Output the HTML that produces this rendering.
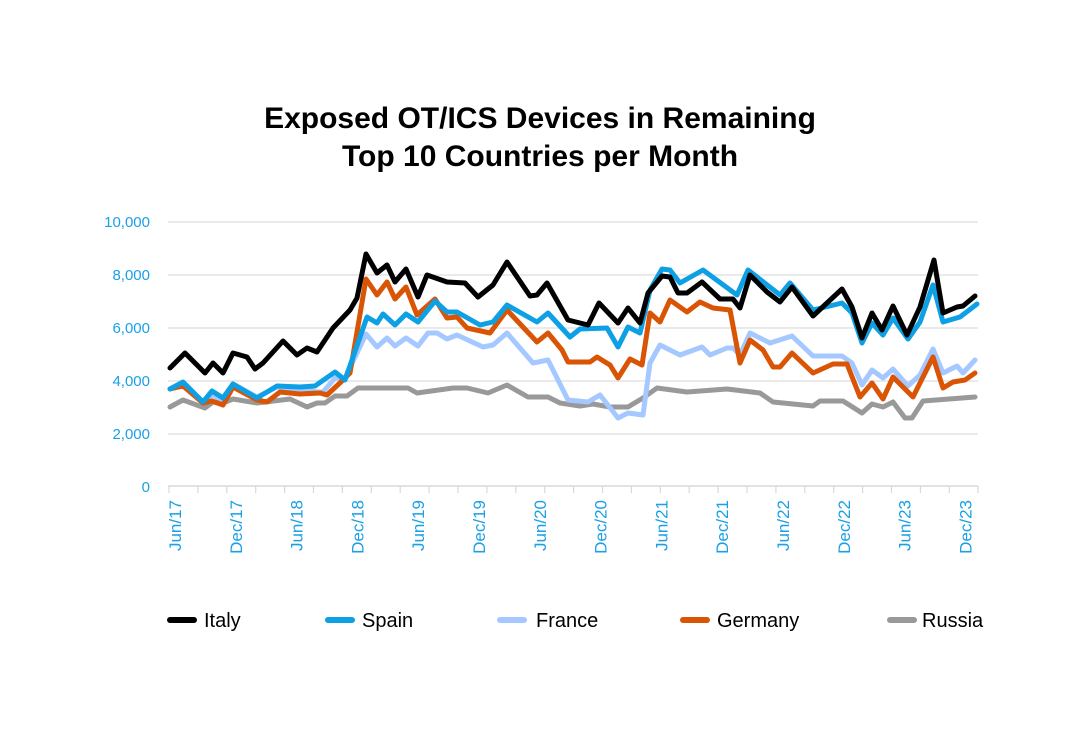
<!DOCTYPE html>
<html><head><meta charset="utf-8"><style>
body{margin:0;background:#fff;width:1080px;height:733px;overflow:hidden}
svg{display:block;font-family:"Liberation Sans",sans-serif}
</style></head><body>
<svg width="1080" height="733" viewBox="0 0 1080 733">
<text x="540" y="128" text-anchor="middle" font-size="30" font-weight="bold" fill="#000">Exposed OT/ICS Devices in Remaining</text>
<text x="540" y="166" text-anchor="middle" font-size="30" font-weight="bold" fill="#000">Top 10 Countries per Month</text>
<g stroke="#e4e4e4" stroke-width="1.5">
<line x1="168" x2="978" y1="222" y2="222"/><line x1="168" x2="978" y1="275" y2="275"/><line x1="168" x2="978" y1="328" y2="328"/><line x1="168" x2="978" y1="381" y2="381"/><line x1="168" x2="978" y1="434" y2="434"/>
<line x1="168" x2="978" y1="486" y2="486" stroke="#d8d8d8"/>
</g>
<g stroke="#d8d8d8" stroke-width="1.2">
<line x1="169" x2="169" y1="486" y2="493"/><line x1="197.9" x2="197.9" y1="486" y2="493"/><line x1="226.8" x2="226.8" y1="486" y2="493"/><line x1="255.7" x2="255.7" y1="486" y2="493"/><line x1="284.6" x2="284.6" y1="486" y2="493"/><line x1="313.5" x2="313.5" y1="486" y2="493"/><line x1="342.4" x2="342.4" y1="486" y2="493"/><line x1="371.3" x2="371.3" y1="486" y2="493"/><line x1="400.2" x2="400.2" y1="486" y2="493"/><line x1="429.1" x2="429.1" y1="486" y2="493"/><line x1="458" x2="458" y1="486" y2="493"/><line x1="486.9" x2="486.9" y1="486" y2="493"/><line x1="515.8" x2="515.8" y1="486" y2="493"/><line x1="544.7" x2="544.7" y1="486" y2="493"/><line x1="573.6" x2="573.6" y1="486" y2="493"/><line x1="602.5" x2="602.5" y1="486" y2="493"/><line x1="631.4" x2="631.4" y1="486" y2="493"/><line x1="660.3" x2="660.3" y1="486" y2="493"/><line x1="689.2" x2="689.2" y1="486" y2="493"/><line x1="718.1" x2="718.1" y1="486" y2="493"/><line x1="747" x2="747" y1="486" y2="493"/><line x1="775.9" x2="775.9" y1="486" y2="493"/><line x1="804.8" x2="804.8" y1="486" y2="493"/><line x1="833.7" x2="833.7" y1="486" y2="493"/><line x1="862.6" x2="862.6" y1="486" y2="493"/><line x1="891.5" x2="891.5" y1="486" y2="493"/><line x1="920.4" x2="920.4" y1="486" y2="493"/><line x1="949.3" x2="949.3" y1="486" y2="493"/><line x1="978" x2="978" y1="486" y2="493"/>
</g>
<g fill="#1aa0e6" font-size="15" text-anchor="end">
<text x="150" y="227">10,000</text><text x="150" y="280">8,000</text><text x="150" y="333">6,000</text><text x="150" y="386">4,000</text><text x="150" y="439">2,000</text><text x="150" y="492">0</text>
</g>
<g fill="#1aa0e6" font-size="17" text-anchor="end">
<text transform="translate(181,500) rotate(-90)">Jun/17</text>
<text transform="translate(241.8,500) rotate(-90)">Dec/17</text>
<text transform="translate(302.6,500) rotate(-90)">Jun/18</text>
<text transform="translate(363.4,500) rotate(-90)">Dec/18</text>
<text transform="translate(424.2,500) rotate(-90)">Jun/19</text>
<text transform="translate(485,500) rotate(-90)">Dec/19</text>
<text transform="translate(545.8,500) rotate(-90)">Jun/20</text>
<text transform="translate(606.6,500) rotate(-90)">Dec/20</text>
<text transform="translate(667.4,500) rotate(-90)">Jun/21</text>
<text transform="translate(728.2,500) rotate(-90)">Dec/21</text>
<text transform="translate(789,500) rotate(-90)">Jun/22</text>
<text transform="translate(849.8,500) rotate(-90)">Dec/22</text>
<text transform="translate(910.6,500) rotate(-90)">Jun/23</text>
<text transform="translate(971.4,500) rotate(-90)">Dec/23</text>
</g>
<g fill="none" stroke-width="5" stroke-linejoin="round" stroke-linecap="round">
<polyline stroke="#999" points="170,407 183,400 205,408 213,402 223,403 233,399 257,403 290,399 307,407 317,403 325,403 335,396 347,396 358,388 408,388 417,393 453,388 467,388 488,393 507,385 528,397 548,397 560,403 580,406 593,404 610,407 628,407 643,398 657,388 687,392 727,389 760,393 773,402 813,406 820,401 843,401 862,413 872,404 883,407 893,402 905,418 912,418 923,401 975,397"/>
<polyline stroke="#a4c8ff" points="170,389 183,383 203,402 212,395 223,400 233,384 257,397 277,387 300,389 317,392 323,392 335,378 345,378 366,334 377,347 387,338 395,346 406,338 418,346 428,333 437,333 447,339 457,335 483,347 493,345 507,333 533,363 548,360 568,400 588,402 600,395 618,418 628,413 643,415 650,363 660,345 680,355 702,347 710,355 727,348 733,348 740,355 750,333 770,343 792,336 813,356 842,356 852,363 862,385 872,370 883,378 893,369 908,386 920,375 933,349 943,373 957,366 963,373 975,360"/>
<polyline stroke="#d95404" points="170,389 183,386 203,403 212,401 223,405 233,387 257,400 267,402 280,392 300,394 320,393 327,395 343,380 350,373 366,279 377,295 387,282 395,299 406,287 417,315 435,299 447,318 457,317 467,328 490,333 507,310 537,342 548,333 562,350 568,362 590,362 597,357 610,365 618,378 630,359 642,365 650,313 660,322 670,300 687,312 700,302 713,308 730,310 740,363 750,340 763,350 773,367 780,367 792,353 813,373 833,364 847,364 860,397 872,383 883,399 893,377 913,397 933,357 943,388 953,382 965,380 975,373"/>
<polyline stroke="#0ea0e4" points="170,389 183,382 203,402 212,391 223,398 233,384 257,398 277,386 300,387 315,386 335,372 345,380 367,317 377,323 383,314 395,325 406,314 418,322 435,301 447,312 457,312 480,325 493,322 507,305 537,322 548,313 570,337 580,329 607,328 618,347 628,327 640,333 650,290 662,269 670,270 680,283 703,270 737,295 748,270 780,295 790,283 813,310 842,303 852,313 862,343 872,323 883,335 893,318 908,339 920,322 933,285 943,322 960,317 977,304"/>
<polyline stroke="#000" points="170,368 185,353 205,373 213,363 223,373 233,353 247,357 255,369 263,363 283,341 297,355 307,348 317,352 333,328 350,310 357,298 366,254 377,273 387,265 395,282 406,269 418,297 427,275 447,282 465,283 478,297 493,285 507,262 530,296 537,295 547,283 568,320 588,325 599,303 618,323 628,308 640,323 648,293 662,276 670,277 678,293 687,293 702,282 720,299 733,299 740,308 750,275 767,292 780,302 792,287 813,316 842,289 852,307 862,338 872,313 882,330 893,306 907,335 920,307 934,260 943,313 957,307 963,306 975,296"/>
</g>
<g stroke-width="6" stroke-linecap="round">
<line x1="170" x2="194" y1="620" y2="620" stroke="#000"/>
<line x1="328" x2="352" y1="620" y2="620" stroke="#0ea0e4"/>
<line x1="500" x2="524" y1="620" y2="620" stroke="#a4c8ff"/>
<line x1="683" x2="707" y1="620" y2="620" stroke="#d95404"/>
<line x1="890" x2="914" y1="620" y2="620" stroke="#999"/>
</g>
<g font-size="20" fill="#000">
<text x="204" y="627">Italy</text><text x="362" y="627">Spain</text><text x="536" y="627">France</text><text x="717" y="627">Germany</text><text x="922" y="627">Russia</text>
</g>
</svg>
</body></html>
